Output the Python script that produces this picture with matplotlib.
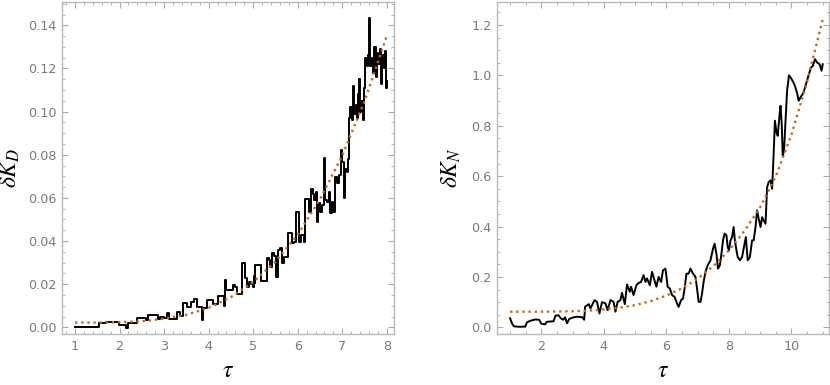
import matplotlib
matplotlib.use("Agg")
import matplotlib.pyplot as plt
from matplotlib.ticker import MultipleLocator, FormatStrFormatter

plt.rcParams['mathtext.fontset'] = 'stix'
plt.rcParams['font.family'] = ['DejaVu Sans']

# ---------------- data: left panel (delta K_D, step curve) ----------------
tau_D = [1.00, 1.53, 1.70, 1.98, 2.14, 2.18, 2.40, 2.60, 2.64, 2.86, 2.90, 3.00,
         3.06, 3.10, 3.30, 3.36, 3.42, 3.52, 3.60, 3.66, 3.74, 3.85, 3.87, 3.97,
         4.09, 4.20, 4.34, 4.37, 4.39, 4.55, 4.60, 4.64, 4.74, 4.82, 4.85, 4.90,
         4.95, 4.99, 5.01, 5.03, 5.05, 5.17, 5.32, 5.36, 5.38, 5.42, 5.47, 5.52,
         5.56, 5.61, 5.65, 5.68, 5.78, 5.88, 5.92, 5.96, 6.02, 6.08, 6.14, 6.17,
         6.26, 6.30, 6.34, 6.37, 6.40, 6.43, 6.46, 6.50, 6.55, 6.59, 6.61, 6.65,
         6.70, 6.73, 6.76, 6.79, 6.84, 6.88, 6.93, 6.96, 7.00, 7.03, 7.06, 7.10,
         7.13, 7.15, 7.18, 7.21, 7.24, 7.26, 7.30, 7.33, 7.36, 7.38, 7.40, 7.43,
         7.46, 7.49, 7.51, 7.55, 7.58, 7.61, 7.63, 7.66, 7.69, 7.72, 7.75, 7.78,
         7.81, 7.84, 7.87, 7.90, 7.93, 7.96, 7.98, 8.00]
dK_D = [0.0003, 0.0018, 0.0023, 0.0010, -0.0002, 0.0019, 0.0042, 0.0034, 0.0057, 0.0040, 0.0050, 0.0045,
        0.0068, 0.0037, 0.0070, 0.0052, 0.0112, 0.0096, 0.0118, 0.0132, 0.0095, 0.0034, 0.0090, 0.0128,
        0.0110, 0.0145, 0.0099, 0.0219, 0.0172, 0.0196, 0.0186, 0.0154, 0.0296, 0.0227, 0.0185, 0.0210,
        0.0200, 0.0185, 0.0240, 0.0205, 0.0288, 0.0214, 0.0319, 0.0310, 0.0280, 0.0343, 0.0330, 0.0234,
        0.0358, 0.0366, 0.0296, 0.0327, 0.0435, 0.0389, 0.0395, 0.0535, 0.0396, 0.0427, 0.0396, 0.0597,
        0.0535, 0.0643, 0.0620, 0.0590, 0.0628, 0.0490, 0.0574, 0.0535, 0.0566, 0.0787, 0.0589, 0.0580,
        0.0628, 0.0528, 0.0580, 0.0535, 0.0697, 0.0667, 0.0705, 0.0820, 0.0767, 0.0600, 0.0736, 0.0720,
        0.0780, 0.0970, 0.1020, 0.0960, 0.1120, 0.0990, 0.1030, 0.0970, 0.1080, 0.1150, 0.1000, 0.1050,
        0.0960, 0.1110, 0.1250, 0.1210, 0.1260, 0.1436, 0.1210, 0.1250, 0.1180, 0.1300, 0.1160, 0.1270,
        0.1220, 0.1290, 0.1130, 0.1260, 0.1200, 0.1280, 0.1110, 0.1140]

fit_tau_D = [1.0, 1.5, 2.0, 2.5, 3.0, 3.5, 4.0, 4.5, 5.0, 5.5, 6.0, 6.5, 7.0, 7.5, 8.0]
fit_D = [0.0022, 0.0022, 0.0024, 0.0028, 0.0040, 0.0058, 0.0090, 0.0140, 0.0210, 0.0305,
         0.0430, 0.0594, 0.0797, 0.1048, 0.1352]

# ---------------- data: right panel (delta K_N) ----------------
tau_N = [1.00, 1.06, 1.12, 1.30, 1.49, 1.54, 1.65, 1.80, 1.93, 2.00, 2.12, 2.18, 2.39, 2.45,
         2.55, 2.62, 2.70, 2.76, 2.82, 2.90, 3.04, 3.15, 3.31, 3.37, 3.40, 3.52, 3.57, 3.70,
         3.78, 3.86, 3.94, 4.05, 4.12, 4.21, 4.31, 4.37, 4.44, 4.53, 4.58, 4.67, 4.74, 4.83,
         4.87, 4.95, 5.04, 5.11, 5.19, 5.27, 5.33, 5.38, 5.47, 5.54, 5.62, 5.68, 5.75, 5.83,
         5.89, 5.97, 6.04, 6.11, 6.18, 6.26, 6.32, 6.39, 6.47, 6.53, 6.59, 6.64, 6.71, 6.77,
         6.85, 6.93, 6.98, 7.03, 7.09, 7.14, 7.19, 7.25, 7.32, 7.41, 7.49, 7.54, 7.60, 7.65,
         7.71, 7.76, 7.81, 7.86, 7.92, 7.96, 8.00, 8.05, 8.10, 8.15, 8.19, 8.24, 8.28, 8.35,
         8.42, 8.50, 8.54, 8.60, 8.67, 8.74, 8.79, 8.85, 8.90, 8.95, 9.01, 9.06, 9.11, 9.17,
         9.22, 9.27, 9.33, 9.38, 9.43, 9.47, 9.52, 9.56, 9.62, 9.65, 9.69, 9.72, 9.76, 9.81,
         9.86, 9.92, 9.98, 10.05, 10.11, 10.18, 10.23, 10.30, 10.38, 10.45, 10.55, 10.62,
         10.68, 10.75, 10.82, 10.90, 10.96, 11.00]
dK_N = [0.036, 0.016, 0.004, 0.002, 0.003, 0.020, 0.026, 0.031, 0.030, 0.014, 0.012, 0.022, 0.024, 0.046,
        0.048, 0.036, 0.030, 0.040, 0.016, 0.034, 0.040, 0.042, 0.040, 0.030, 0.082, 0.092, 0.075, 0.108,
        0.101, 0.055, 0.100, 0.095, 0.068, 0.108, 0.101, 0.062, 0.101, 0.108, 0.137, 0.092, 0.170, 0.141,
        0.161, 0.128, 0.167, 0.176, 0.180, 0.207, 0.180, 0.194, 0.167, 0.220, 0.187, 0.161, 0.200, 0.180,
        0.226, 0.233, 0.161, 0.154, 0.128, 0.121, 0.101, 0.081, 0.108, 0.114, 0.161, 0.213, 0.213, 0.233,
        0.213, 0.200, 0.154, 0.101, 0.101, 0.134, 0.180, 0.220, 0.246, 0.266, 0.312, 0.332, 0.292, 0.233,
        0.246, 0.292, 0.345, 0.372, 0.365, 0.319, 0.306, 0.345, 0.358, 0.398, 0.345, 0.306, 0.279, 0.266,
        0.279, 0.332, 0.358, 0.266, 0.279, 0.345, 0.345, 0.398, 0.464, 0.431, 0.398, 0.437, 0.424, 0.411,
        0.556, 0.576, 0.583, 0.550, 0.688, 0.820, 0.774, 0.760, 0.846, 0.879, 0.800, 0.680, 0.700, 0.820,
        0.940, 1.000, 0.990, 0.975, 0.958, 0.930, 0.899, 0.915, 0.930, 0.959, 1.000, 1.030,
        1.037, 1.064, 1.051, 1.044, 1.018, 1.044]

fit_tau_N = [1.0, 1.5, 2.0, 2.5, 3.0, 3.5, 4.0, 4.5, 5.0, 5.5, 6.0, 6.5, 7.0, 7.5, 8.0,
             8.5, 9.0, 9.5, 10.0, 10.5, 11.0]
fit_N = [0.062, 0.062, 0.062, 0.063, 0.064, 0.066, 0.071, 0.078, 0.088, 0.104, 0.126, 0.155,
         0.193, 0.243, 0.305, 0.383, 0.477, 0.600, 0.765, 0.975, 1.222]

# ---------------- styling ----------------
frame_col = '#b8b8b8'
tick_col = '#ababab'
label_col = '#7a7a7a'
fit_col = '#c46a1a'

fig = plt.figure(figsize=(8.30, 3.85), dpi=100)
axL = fig.add_axes([62 / 830, 51 / 385, 332 / 830, 332 / 385])
axR = fig.add_axes([497 / 830, 51 / 385, 332 / 830, 332 / 385])


def style(ax):
    for s in ax.spines.values():
        s.set_color(frame_col)
        s.set_linewidth(1.0)
    ax.tick_params(which='both', direction='in', top=True, right=True,
                   color=tick_col, labelcolor=label_col, labelsize=9.2)
    ax.tick_params(which='major', length=4.5, width=0.8, pad=4)
    ax.tick_params(which='minor', length=2.5, width=0.6)


axL.plot(tau_D, dK_D, drawstyle='steps-post', color='black', lw=1.4)
axL.plot(fit_tau_D, fit_D, color=fit_col, lw=1.7, linestyle=(0, (1.0, 1.6)))
axL.set_xlim(0.708, 8.16)
axL.set_ylim(-0.0031, 0.1508)
axL.xaxis.set_major_locator(MultipleLocator(1))
axL.xaxis.set_minor_locator(MultipleLocator(0.2))
axL.yaxis.set_major_locator(MultipleLocator(0.02))
axL.yaxis.set_minor_locator(MultipleLocator(0.005))
axL.yaxis.set_major_formatter(FormatStrFormatter('%.2f'))
style(axL)
axL.set_xlabel(r'$\tau$', fontsize=17, labelpad=4)
axL.set_ylabel(r'$\delta K_D$', fontsize=17, labelpad=4)

axR.plot(tau_N, dK_N, color='black', lw=1.4)
axR.plot(fit_tau_N, fit_N, color=fit_col, lw=1.7, linestyle=(0, (1.0, 1.6)))
axR.set_xlim(0.582, 11.2)
axR.set_ylim(-0.0265, 1.291)
axR.xaxis.set_major_locator(MultipleLocator(2))
axR.xaxis.set_minor_locator(MultipleLocator(0.5))
axR.yaxis.set_major_locator(MultipleLocator(0.2))
axR.yaxis.set_minor_locator(MultipleLocator(0.05))
axR.yaxis.set_major_formatter(FormatStrFormatter('%.1f'))
style(axR)
axR.set_xlabel(r'$\tau$', fontsize=17, labelpad=4)
axR.set_ylabel(r'$\delta K_N$', fontsize=17, labelpad=6)

fig.savefig('out.png', dpi=100)
